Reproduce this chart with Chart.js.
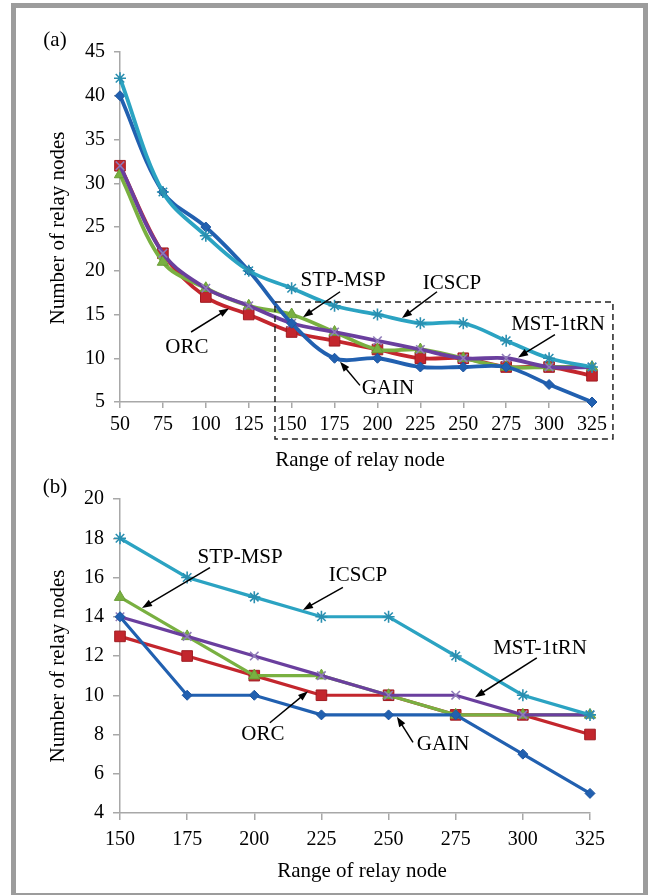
<!DOCTYPE html>
<html><head><meta charset="utf-8">
<script src="https://cdn.jsdelivr.net/npm/chart.js@4.4.1/dist/chart.umd.min.js"></script>
<style>
html,body{margin:0;padding:0;background:#fff;}
body{width:648px;height:895px;position:relative;overflow:hidden;}
#frame{position:absolute;left:11px;top:3px;width:637px;height:895px;box-sizing:border-box;border:5px solid #9c9c9c;background:#fff;}
canvas{position:absolute;left:0;}
#ca{top:0;}
#cb{top:465px;}
</style></head><body>
<div id="frame"></div>
<canvas id="ca" width="648" height="480"></canvas>
<canvas id="cb" width="648" height="430"></canvas>
<script>
// ---- data ----
const ranges   = [50, 75, 100, 125, 150, 175, 200, 225, 250, 275, 300, 325];
const gain     = [40, 29, 25, 20, 14, 10, 10, 9, 9, 9, 7, 5];
const icscp    = [42, 29, 24, 20, 18, 16, 15, 14, 14, 12, 10, 9];
const orc      = [32, 22, 17, 15, 13, 12, 11, 10, 10, 9, 9, 8];
const stpMsp   = [31, 21, 18, 16, 15, 13, 11, 11, 10, 9, 9, 9];
const mst1tRN  = [32, 22, 18, 16, 14, 13, 12, 11, 10, 10, 9, 9];
const yTicksA  = [5, 10, 15, 20, 25, 30, 35, 40, 45];
const yTicksB  = [4, 6, 8, 10, 12, 14, 16, 18, 20];
const zoomStart = 150;
const xTitle = 'Range of relay node';
const yTitle = 'Number of relay nodes';

// series styles (first listed is drawn on top)
const series = [
  {name:'ICSCP',    values:icscp,   color:'#2ba3c2', fill:'#2ba3c2', mborder:'#2a8fb0', marker:'star',     radius:6,   mbw:1.6},
  {name:'GAIN',     values:gain,    color:'#2160b0', fill:'#2160b0', mborder:'#1d55a0', marker:'rectRot',  radius:5,   mbw:1},
  {name:'MST-1tRN', values:mst1tRN, color:'#6a3f9e', fill:'#8f7cb8', mborder:'#8f7cb8', marker:'crossRot', radius:6,   mbw:1.6},
  {name:'STP-MSP',  values:stpMsp,  color:'#79b041', fill:'#79b041', mborder:'#6a9e36', marker:'triangle', radius:6.5, mbw:1},
  {name:'ORC',      values:orc,     color:'#c3262d', fill:'#c3262d', mborder:'#a01c22', marker:'rect',     radius:7.5, mbw:1}
];

// callouts (positions in data units)
const notesA = [
  {text:'STP-MSP',  tx:180,   ty:18.9, from:[178.2,17.6], to:[156.6,14.7]},
  {text:'ICSCP',    tx:243.4, ty:18.6, from:[234.7,17.6], to:[214.3,14.6]},
  {text:'MST-1tRN', tx:305.2, ty:13.9, from:[303.4,12.7], to:[281.9,10.1]},
  {text:'ORC',      tx:89,    ty:11.2, from:[91.4,13.0],  to:[113.5,15.7]},
  {text:'GAIN',     tx:206.1, ty:6.6,  from:[189.8,6.9],  to:[178.2,9.6]}
];
const notesB = [
  {text:'STP-MSP',  tx:194.7, ty:17.0, from:[183.5,16.5], to:[158.2,14.45]},
  {text:'ICSCP',    tx:238.6, ty:16.1, from:[233.0,15.5], to:[218.1,14.35]},
  {text:'ORC',      tx:203.2, ty:8.0,  from:[205.8,8.6],  to:[220.0,10.2]},
  {text:'GAIN',     tx:270.3, ty:7.5,  from:[259.1,7.6],  to:[253.1,8.9]},
  {text:'MST-1tRN', tx:306.4, ty:12.4, from:[305.2,11.9], to:[282.2,9.9]}
];
const zoomBox = {x1:140.3, x2:337.2, y1:0.77, y2:16.43};

const FONT = '"Liberation Serif", "Times New Roman", serif';

function arrow(ctx, x1, y1, x2, y2) {
  const a = Math.atan2(y2 - y1, x2 - x1);
  const L = 10, W = 3.6;
  ctx.beginPath(); ctx.moveTo(x1, y1); ctx.lineTo(x2 - 6*Math.cos(a), y2 - 6*Math.sin(a)); ctx.stroke();
  ctx.beginPath();
  ctx.moveTo(x2, y2);
  ctx.lineTo(x2 - L*Math.cos(a) + W*Math.sin(a), y2 - L*Math.sin(a) - W*Math.cos(a));
  ctx.lineTo(x2 - L*Math.cos(a) - W*Math.sin(a), y2 - L*Math.sin(a) + W*Math.cos(a));
  ctx.closePath(); ctx.fill();
}

const decorPlugin = {
  id: 'decor',
  afterDraw(chart, args, o) {
    const {ctx, chartArea: ca, scales: {x, y}} = chart;
    ctx.save();
    ctx.fillStyle = '#000'; ctx.strokeStyle = '#000'; ctx.lineWidth = 1.5;
    ctx.textAlign = 'center'; ctx.textBaseline = 'middle';
    ctx.font = '21px ' + FONT;
    for (const n of o.notes) {
      ctx.fillText(n.text, x.getPixelForValue(n.tx), y.getPixelForValue(n.ty));
      arrow(ctx, x.getPixelForValue(n.from[0]), y.getPixelForValue(n.from[1]),
                 x.getPixelForValue(n.to[0]),   y.getPixelForValue(n.to[1]));
    }
    if (o.box) {
      ctx.setLineDash([6, 4]); ctx.lineWidth = 1.5; ctx.strokeStyle = '#222';
      const bx1 = x.getPixelForValue(o.box.x1), bx2 = x.getPixelForValue(o.box.x2);
      const by1 = y.getPixelForValue(o.box.y2), by2 = y.getPixelForValue(o.box.y1);
      ctx.strokeRect(bx1, by1, bx2 - bx1, by2 - by1);
      ctx.setLineDash([]);
    }
    // panel label
    ctx.font = '21px ' + FONT;
    ctx.fillText(o.panel, ca.left - 65, ca.top - 12);
    // axis titles
    ctx.fillText(xTitle, (ca.left + ca.right) / 2 + o.xdx, ca.bottom + 58);
    ctx.translate(ca.left - 62, (ca.top + ca.bottom) / 2 + o.ydy);
    ctx.rotate(-Math.PI / 2);
    ctx.fillText(yTitle, 0, 0);
    ctx.restore();
  }
};

function makeChart(id, xStart, yTicks, cfg) {
  const i0 = ranges.indexOf(xStart);
  const xs = ranges.slice(i0);
  const datasets = series.map(s => ({
    label: s.name,
    data: xs.map((r, i) => ({x: r, y: s.values[i0 + i]})),
    borderColor: s.color, backgroundColor: s.fill, borderWidth: cfg.lw,
    pointStyle: s.marker, pointRadius: s.radius, pointBorderColor: s.mborder,
    pointBackgroundColor: s.fill, pointBorderWidth: s.mbw,
    tension: cfg.tension, fill: false, clip: false
  }));
  const grid = {drawOnChartArea: false, drawTicks: true, tickLength: cfg.tl, color: '#a8a8a8', lineWidth: 1.5};
  const border = {color: '#a8a8a8', width: 1.5};
  return new Chart(document.getElementById(id), {
    type: 'line',
    data: {datasets},
    options: {
      responsive: false, animation: false, devicePixelRatio: 1,
      layout: {padding: {left: 0, top: cfg.top, right: cfg.right, bottom: 0}},
      plugins: {
        legend: {display: false}, tooltip: {enabled: false},
        decor: {notes: cfg.notes, box: cfg.box, panel: cfg.panel, xdx: cfg.xdx, ydy: cfg.ydy}
      },
      scales: {
        x: {
          type: 'linear', min: xs[0], max: xs[xs.length - 1],
          afterFit: s => { s.height = cfg.xh; },
          afterBuildTicks: s => { s.ticks = xs.map(v => ({value: v})); },
          ticks: {autoSkip: false, maxRotation: 0, padding: cfg.xpad, color: '#000', font: {family: FONT, size: 20}},
          grid, border
        },
        y: {
          min: yTicks[0], max: yTicks[yTicks.length - 1],
          afterFit: s => { s.width = 120; },
          afterBuildTicks: s => { s.ticks = yTicks.map(v => ({value: v})); },
          ticks: {padding: 9, color: '#000', font: {family: FONT, size: 20}},
          grid, border
        }
      }
    },
    plugins: [decorPlugin]
  });
}

makeChart('ca', ranges[0], yTicksA, {lw: 3.8, tension: 0.35, top: 52, right: 56, xh: 78, tl: 6, xpad: 5,
  notes: notesA, box: zoomBox, panel: '(a)', xdx: 4, ydy: 1});
makeChart('cb', zoomStart, yTicksB, {lw: 3.2, tension: 0, top: 34, right: 58, xh: 82, tl: 7, xpad: 8,
  notes: notesB, box: null, panel: '(b)', xdx: 7, ydy: 10});
</script>
</body></html>
